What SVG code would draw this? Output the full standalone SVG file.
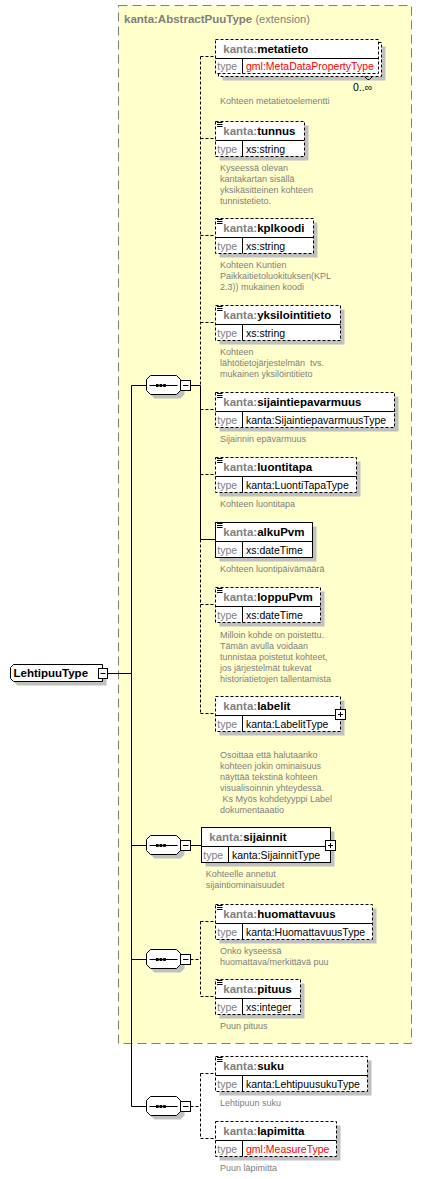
<svg xmlns="http://www.w3.org/2000/svg" xmlns:xlink="http://www.w3.org/1999/xlink" width="422" height="1179" viewBox="0 0 422 1179">
<style>
text{font-family:"Liberation Sans",Arial,sans-serif}
.bg{fill:#FFFFCC;stroke:#808080;stroke-width:1;stroke-dasharray:9,5}
.title{font-size:11.5px;font-weight:bold;fill:#808080}
.ext{font-size:11px;fill:#808080;font-weight:normal}
.sh{fill:#C0C0C0;stroke:none}
.box{fill:#fff;stroke:#000;stroke-width:1}
.opt{stroke-dasharray:3,2}
.ln{stroke:#000;stroke-width:1;fill:none}
.dl{stroke:#000;stroke-width:1;fill:none;stroke-dasharray:3,2}
.sep{stroke:#000;stroke-width:1;fill:none}
.nm{font-size:11.5px;font-weight:bold;fill:#000}
.ns{fill:#808080}
.tl{font-size:10.5px;fill:#808080}
.tv{font-size:10.5px;fill:#000}
.red{fill:#FF0000}
.doc{font-size:9px;fill:#808080}
.occ{font-size:10.5px;fill:#000}
</style>
<defs>
<g id="seq">
<path class="sh" d="M154.5,-5.5 L180.5,-5.5 L184.5,-1.5 L184.5,9.5 L180.5,13.5 L154.5,13.5 L150.5,9.5 L150.5,-1.5 Z"/>
<path class="box" d="M150.5,-9.5 L176.5,-9.5 L180.5,-5.5 L180.5,5.5 L176.5,9.5 L150.5,9.5 L146.5,5.5 L146.5,-5.5 Z"/>
<path class="ln" d="M149.5,0.5 H177.5"/>
<rect x="156" y="-1" width="2.6" height="3" fill="#000"/>
<rect x="159.6" y="-1" width="2.6" height="3" fill="#000"/>
<rect x="163.2" y="-1" width="2.6" height="3" fill="#000"/>
<rect class="box" x="180.5" y="-4.5" width="10" height="10"/>
<path class="ln" d="M183,0.5 H188.5"/>
</g>
<g id="icon">
<path class="ln" d="M1.5,1.5 H7 M1.5,3.5 H7 M1.5,5.5 H7"/>
</g>
<g id="plus">
<rect class="box" x="-5" y="0" width="10" height="10"/>
<path class="ln" d="M-2.5,5 H2.5 M0,2.5 V7.5"/>
</g>
</defs>

<g id="extension">
<rect class="bg" x="118.5" y="5.5" width="293" height="1038"/>
<text class="title" x="124" y="22.5">kanta:AbstractPuuType <tspan class="ext">(extension)</tspan></text>
</g>

<g id="connectors">
<path class="ln" d="M107.5,673.5 H131.5 M131.5,385.5 V1106.5 M131.5,385.5 H146.5 M131.5,845.5 H146.5 M131.5,959.5 H146.5 M131.5,1106.5 H146.5"/>
<path class="ln" d="M190.5,385.5 H200.5 M200.5,385.5 V539.5 M200.5,539.5 H215.5"/>
<path class="dl" d="M200.5,56.5 V385.5 M200.5,539.5 V713.5 M200.5,56.5 H215.5 M200.5,138.5 H215.5 M200.5,235.5 H215.5 M200.5,322.5 H215.5 M200.5,409.5 H215.5 M200.5,474.5 H215.5 M200.5,604.5 H215.5 M200.5,713.5 H215.5"/>
<path class="ln" d="M190.5,845.5 H201.5"/>
<path class="dl" d="M190.5,959.5 H200.5 M200.5,921.5 V996.5 M200.5,921.5 H215.5 M200.5,996.5 H215.5"/>
<path class="dl" d="M190.5,1106.5 H200.5 M200.5,1073.5 V1138.5 M200.5,1073.5 H215.5 M200.5,1138.5 H215.5"/>
</g>

<g id="LehtipuuType">
<path class="sh" d="M17.5,668.5 H106.5 V685.5 H17.5 L14.5,682.5 V671.5 Z"/>
<path class="box" d="M13.5,664.5 H102.5 V681.5 H13.5 L10.5,678.5 V667.5 Z"/>
<text class="nm" x="13.5" y="677">LehtipuuType</text>
<rect class="box" x="98.5" y="668.5" width="9" height="10"/>
<path class="ln" d="M100.5,673.5 H105.5"/>
</g>

<g id="sequence1"><use xlink:href="#seq" href="#seq" y="385"/></g>
<g id="sequence2"><use xlink:href="#seq" href="#seq" y="845"/></g>
<g id="sequence3"><use xlink:href="#seq" href="#seq" y="959"/></g>
<g id="sequence4"><use xlink:href="#seq" href="#seq" y="1106"/></g>

<g id="metatieto">
<rect class="sh" x="222.5" y="46.5" width="163" height="34"/>
<rect class="box opt" x="218.5" y="42.5" width="163" height="34"/>
<rect class="box opt" x="215.5" y="39.5" width="163" height="34"/>
<path class="sep" d="M215.5,58.5 H378.5 M242.5,58.5 V73.5"/>
<text class="nm" x="223.3" y="53"><tspan class="ns">kanta:</tspan>metatieto</text>
<text class="tl" x="217.3" y="70">type</text>
<text class="tv red" x="246" y="70">gml:MetaDataPropertyType</text>
<path class="ln" d="M364.5,76.5 L367.5,79.5 H369.5 L372.5,76.5"/>
<text class="occ" x="353" y="91">0..∞</text>
<text class="doc" x="220" y="103.5">Kohteen metatietoelementti</text>
</g>

<g id="tunnus">
<rect class="sh" x="219.5" y="125.5" width="89" height="35"/>
<rect class="box opt" x="215.5" y="121.5" width="89" height="35"/>
<path class="sep" d="M215.5,140.5 H304.5 M242.5,140.5 V156.5"/>
<use xlink:href="#icon" href="#icon" x="215.5" y="121"/>
<text class="nm" x="223.3" y="135"><tspan class="ns">kanta:</tspan>tunnus</text>
<text class="tl" x="217.3" y="152.5">type</text>
<text class="tv" x="246" y="152.5">xs:string</text>
<text class="doc" x="220" y="170.5">Kyseessä olevan</text>
<text class="doc" x="220" y="181.5">kantakartan sisällä</text>
<text class="doc" x="220" y="192.5">yksikäsitteinen kohteen</text>
<text class="doc" x="220" y="203.5">tunnistetieto.</text>
</g>

<g id="kplkoodi">
<rect class="sh" x="219.5" y="222.5" width="98" height="35"/>
<rect class="box opt" x="215.5" y="218.5" width="98" height="35"/>
<path class="sep" d="M215.5,237.5 H313.5 M242.5,237.5 V253.5"/>
<use xlink:href="#icon" href="#icon" x="215.5" y="218"/>
<text class="nm" x="223.3" y="232"><tspan class="ns">kanta:</tspan>kplkoodi</text>
<text class="tl" x="217.3" y="249.5">type</text>
<text class="tv" x="246" y="249.5">xs:string</text>
<text class="doc" x="220" y="268">Kohteen Kuntien</text>
<text class="doc" x="220" y="279">Paikkaitietoluokituksen(KPL</text>
<text class="doc" x="220" y="290">2.3)) mukainen koodi</text>
</g>

<g id="yksilointitieto">
<rect class="sh" x="219.5" y="309.5" width="125" height="35"/>
<rect class="box opt" x="215.5" y="305.5" width="125" height="35"/>
<path class="sep" d="M215.5,324.5 H340.5 M242.5,324.5 V340.5"/>
<use xlink:href="#icon" href="#icon" x="215.5" y="305"/>
<text class="nm" x="223.3" y="319"><tspan class="ns">kanta:</tspan>yksilointitieto</text>
<text class="tl" x="217.3" y="336.5">type</text>
<text class="tv" x="246" y="336.5">xs:string</text>
<text class="doc" x="220" y="355">Kohteen</text>
<text class="doc" x="220" y="366" xml:space="preserve">lähtötietojärjestelmän  tvs.</text>
<text class="doc" x="220" y="377">mukainen yksilöintitieto</text>
</g>

<g id="sijaintiepavarmuus">
<rect class="sh" x="219.5" y="396.5" width="179" height="35"/>
<rect class="box opt" x="215.5" y="392.5" width="179" height="35"/>
<path class="sep" d="M215.5,411.5 H394.5 M242.5,411.5 V427.5"/>
<use xlink:href="#icon" href="#icon" x="215.5" y="392"/>
<text class="nm" x="223.3" y="406"><tspan class="ns">kanta:</tspan>sijaintiepavarmuus</text>
<text class="tl" x="217.3" y="423.5">type</text>
<text class="tv" x="246" y="423.5">kanta:SijaintiepavarmuusType</text>
<text class="doc" x="220" y="442">Sijainnin epävarmuus</text>
</g>

<g id="luontitapa">
<rect class="sh" x="219.5" y="461.5" width="141" height="35"/>
<rect class="box opt" x="215.5" y="457.5" width="141" height="35"/>
<path class="sep" d="M215.5,476.5 H356.5 M242.5,476.5 V492.5"/>
<use xlink:href="#icon" href="#icon" x="215.5" y="457"/>
<text class="nm" x="223.3" y="471"><tspan class="ns">kanta:</tspan>luontitapa</text>
<text class="tl" x="217.3" y="488.5">type</text>
<text class="tv" x="246" y="488.5">kanta:LuontiTapaType</text>
<text class="doc" x="220" y="507">Kohteen luontitapa</text>
</g>

<g id="alkuPvm">
<rect class="sh" x="219.5" y="526.5" width="97" height="35"/>
<rect class="box" x="215.5" y="522.5" width="97" height="35"/>
<path class="sep" d="M215.5,541.5 H312.5 M242.5,541.5 V557.5"/>
<use xlink:href="#icon" href="#icon" x="215.5" y="522"/>
<text class="nm" x="223.3" y="536"><tspan class="ns">kanta:</tspan>alkuPvm</text>
<text class="tl" x="217.3" y="553.5">type</text>
<text class="tv" x="246" y="553.5">xs:dateTime</text>
<text class="doc" x="220" y="572">Kohteen luontipäivämäärä</text>
</g>

<g id="loppuPvm">
<rect class="sh" x="219.5" y="591.5" width="105" height="35"/>
<rect class="box opt" x="215.5" y="587.5" width="105" height="35"/>
<path class="sep" d="M215.5,606.5 H320.5 M242.5,606.5 V622.5"/>
<use xlink:href="#icon" href="#icon" x="215.5" y="587"/>
<text class="nm" x="223.3" y="601"><tspan class="ns">kanta:</tspan>loppuPvm</text>
<text class="tl" x="217.3" y="618.5">type</text>
<text class="tv" x="246" y="618.5">xs:dateTime</text>
<text class="doc" x="220" y="637.5">Milloin kohde on poistettu.</text>
<text class="doc" x="220" y="648.5">Tämän avulla voidaan</text>
<text class="doc" x="220" y="659.5">tunnistaa poistetut kohteet,</text>
<text class="doc" x="220" y="670.5">jos järjestelmät tukevat</text>
<text class="doc" x="220" y="681.5">historiatietojen tallentamista</text>
</g>

<g id="labelit">
<rect class="sh" x="219.5" y="700.5" width="125" height="35"/>
<rect class="box opt" x="215.5" y="696.5" width="125" height="35"/>
<path class="sep" d="M215.5,715.5 H340.5 M242.5,715.5 V731.5"/>
<use xlink:href="#plus" href="#plus" x="340.5" y="709.5"/>
<text class="nm" x="223.3" y="710"><tspan class="ns">kanta:</tspan>labelit</text>
<text class="tl" x="217.3" y="727.5">type</text>
<text class="tv" x="246" y="727.5">kanta:LabelitType</text>
<text class="doc" x="220" y="757.5">Osoittaa että halutaanko</text>
<text class="doc" x="220" y="768.5">kohteen jokin ominaisuus</text>
<text class="doc" x="220" y="779.5">näyttää tekstinä kohteen</text>
<text class="doc" x="220" y="790.5">visualisoinnin yhteydessä.</text>
<text class="doc" x="220" y="801.5" xml:space="preserve"> Ks Myös kohdetyyppi Label</text>
<text class="doc" x="220" y="812.5">dokumentaaatio</text>
</g>

<g id="sijainnit">
<rect class="sh" x="205.5" y="831.5" width="129" height="35"/>
<rect class="box" x="201.5" y="827.5" width="129" height="35"/>
<path class="sep" d="M201.5,846.5 H330.5 M228.5,846.5 V862.5"/>
<use xlink:href="#plus" href="#plus" x="330.5" y="840.5"/>
<text class="nm" x="209.3" y="841"><tspan class="ns">kanta:</tspan>sijainnit</text>
<text class="tl" x="203.3" y="858.5">type</text>
<text class="tv" x="232" y="858.5">kanta:SijainnitType</text>
<text class="doc" x="205.7" y="877">Kohteelle annetut</text>
<text class="doc" x="205.7" y="888">sijaintiominaisuudet</text>
</g>

<g id="huomattavuus">
<rect class="sh" x="219.5" y="908.5" width="157" height="35"/>
<rect class="box opt" x="215.5" y="904.5" width="157" height="35"/>
<path class="sep" d="M215.5,923.5 H372.5 M242.5,923.5 V939.5"/>
<use xlink:href="#icon" href="#icon" x="215.5" y="904"/>
<text class="nm" x="223.3" y="918"><tspan class="ns">kanta:</tspan>huomattavuus</text>
<text class="tl" x="217.3" y="935.5">type</text>
<text class="tv" x="246" y="935.5">kanta:HuomattavuusType</text>
<text class="doc" x="220" y="953.5">Onko kyseessä</text>
<text class="doc" x="220" y="964.5">huomattava/merkittävä puu</text>
</g>

<g id="pituus">
<rect class="sh" x="219.5" y="983.5" width="85" height="35"/>
<rect class="box opt" x="215.5" y="979.5" width="85" height="35"/>
<path class="sep" d="M215.5,998.5 H300.5 M242.5,998.5 V1014.5"/>
<use xlink:href="#icon" href="#icon" x="215.5" y="979"/>
<text class="nm" x="223.3" y="993"><tspan class="ns">kanta:</tspan>pituus</text>
<text class="tl" x="217.3" y="1010.5">type</text>
<text class="tv" x="246" y="1010.5">xs:integer</text>
<text class="doc" x="220" y="1029">Puun pituus</text>
</g>

<g id="suku">
<rect class="sh" x="219.5" y="1060.5" width="152" height="35"/>
<rect class="box opt" x="215.5" y="1056.5" width="152" height="35"/>
<path class="sep" d="M215.5,1075.5 H367.5 M242.5,1075.5 V1091.5"/>
<use xlink:href="#icon" href="#icon" x="215.5" y="1056"/>
<text class="nm" x="223.3" y="1070"><tspan class="ns">kanta:</tspan>suku</text>
<text class="tl" x="217.3" y="1087.5">type</text>
<text class="tv" x="246" y="1087.5">kanta:LehtipuusukuType</text>
<text class="doc" x="220" y="1106">Lehtipuun suku</text>
</g>

<g id="lapimitta">
<rect class="sh" x="219.5" y="1125.5" width="121" height="35"/>
<rect class="box opt" x="215.5" y="1121.5" width="121" height="35"/>
<path class="sep" d="M215.5,1140.5 H336.5 M242.5,1140.5 V1156.5"/>
<text class="nm" x="223.3" y="1135"><tspan class="ns">kanta:</tspan>lapimitta</text>
<text class="tl" x="217.3" y="1152.5">type</text>
<text class="tv red" x="246" y="1152.5">gml:MeasureType</text>
<text class="doc" x="220" y="1171">Puun läpimitta</text>
</g>
</svg>
